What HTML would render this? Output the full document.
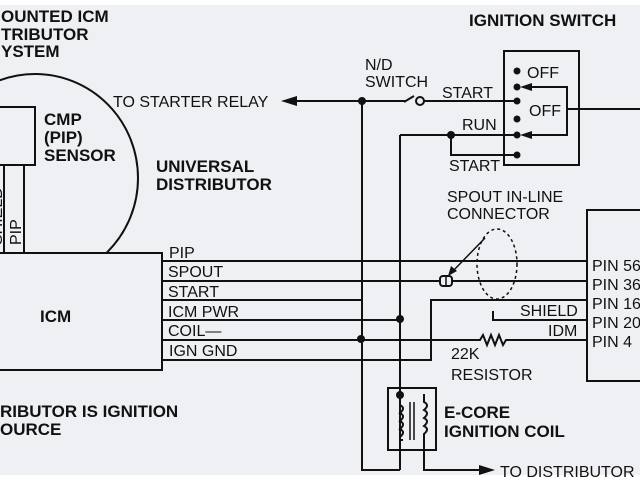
<!DOCTYPE html>
<html><head><meta charset="utf-8"><style>
html,body{margin:0;padding:0;background:#fff}
svg{display:block}
text{font-family:"Liberation Sans",sans-serif;fill:#111}
.b{font-weight:bold;font-size:17px}
.n{font-size:16px}
</style></head><body>
<svg width="640" height="480" viewBox="0 0 640 480">
<rect x="0" y="5" width="640" height="470" fill="#eef0f3"/>
<g fill="none" stroke="#111" stroke-width="2">
<ellipse cx="35" cy="178" rx="103" ry="104"/>
<path d="M-2 107 H35 V165 H-2" fill="#eef0f3"/>
<rect x="-2" y="165" width="26" height="88" fill="#eef0f3"/>
<line x1="4" y1="165" x2="4" y2="253"/>
<path d="M-2 253 H162 V370 H-2" fill="#eef0f3"/>
<line x1="162" y1="261" x2="587" y2="261"/>
<line x1="162" y1="281" x2="440" y2="281"/>
<line x1="452" y1="281" x2="587" y2="281"/>
<path d="M162 300 H362"/>
<path d="M162 320 H400"/>
<path d="M162 340 H480 l3 -5 l4 10 l4 -10 l4 10 l4 -10 l4 10 l3 -5 H587"/>
<path d="M162 360 H431 V300 H587"/>
<path d="M493 311 V320 H587"/>
<path d="M362 101 V470 H400"/>
<path d="M400 135 V470"/>
<path d="M297 101 H405"/>
<path d="M418 101 H517"/>
<path d="M404 102 L414 96"/>
<path d="M400 135 H517"/>
<path d="M451 135 V155 H517"/>
<rect x="504" y="51" width="75" height="114"/>
<path d="M527 87 H567 V135 H527"/>
<path d="M567 109 H640"/>
<path d="M640 210 H587 V381 H640"/>
<rect x="388" y="388" width="48" height="62"/>
<path d="M400 395 V405 q6 3 0 8 q6 3 0 8 q6 3 0 8 q6 3 0 8 V440 H403"/>
<path d="M425 395 H424 V402 q6 3 0 8 q6 3 0 8 q6 3 0 8 q6 3 0 8 V470 H480"/>
<line x1="410" y1="402" x2="410" y2="440" stroke-width="1.5"/>
<line x1="414" y1="402" x2="414" y2="440" stroke-width="1.5"/>
<rect x="440" y="276" width="12" height="10" rx="3" fill="#eef0f3"/>
<line x1="446" y1="276" x2="446" y2="286" stroke-width="1.5"/>
<line x1="485" y1="238" x2="452" y2="272" stroke-width="1.5"/>
<ellipse cx="497" cy="264" rx="20" ry="35" stroke-dasharray="3 3" stroke-width="1.5"/>
</g>
<circle cx="420" cy="101" r="4" fill="#eef0f3" stroke="#111" stroke-width="2"/>
<g fill="#111">
<circle cx="362" cy="101" r="4"/>
<circle cx="451" cy="135" r="4"/>
<circle cx="400" cy="319" r="4"/>
<circle cx="361" cy="339" r="4"/>
<circle cx="400" cy="395" r="4"/>
<circle cx="517" cy="71" r="3.5"/>
<circle cx="517" cy="87" r="3.5"/>
<circle cx="517" cy="101" r="3.5"/>
<circle cx="517" cy="119" r="3.5"/>
<circle cx="517" cy="135" r="3.5"/>
<circle cx="517" cy="155" r="3.5"/>
<path d="M281 101 L297 96 L297 106 Z"/>
<path d="M520 87 L532 83 L532 91 Z"/>
<path d="M520 135 L532 131 L532 139 Z"/>
<path d="M495 470 L479 465 L479 475 Z"/>
<path d="M448 276 L451 266 L457 271 Z"/>
</g>
<text class="b" x="1" y="22">OUNTED ICM</text>
<text class="b" x="1" y="40">TRIBUTOR</text>
<text class="b" x="1" y="57">YSTEM</text>
<text class="b" x="44" y="125">CMP</text>
<text class="b" x="44" y="143">(PIP)</text>
<text class="b" x="44" y="161">SENSOR</text>
<text class="b" x="156" y="172">UNIVERSAL</text>
<text class="b" x="156" y="190">DISTRIBUTOR</text>
<text class="n" x="113" y="107">TO STARTER RELAY</text>
<text class="b" x="469" y="26">IGNITION SWITCH</text>
<text class="n" x="365" y="70">N/D</text>
<text class="n" x="365" y="87">SWITCH</text>
<text class="n" x="442" y="98">START</text>
<text class="n" x="462" y="130">RUN</text>
<text class="n" x="449" y="171">START</text>
<text class="n" x="527" y="78">OFF</text>
<text class="n" x="529" y="116">OFF</text>
<text class="n" x="447" y="202">SPOUT IN-LINE</text>
<text class="n" x="447" y="219">CONNECTOR</text>
<text class="n" x="169" y="258">PIP</text>
<text class="n" x="168" y="277">SPOUT</text>
<text class="n" x="168" y="297">START</text>
<text class="n" x="168" y="317">ICM PWR</text>
<text class="n" x="168" y="336">COIL—</text>
<text class="n" x="169" y="356">IGN GND</text>
<text class="b" x="40" y="322">ICM</text>
<text class="n" x="520" y="316">SHIELD</text>
<text class="n" x="548" y="336">IDM</text>
<text class="n" x="592" y="271">PIN 56</text>
<text class="n" x="592" y="290">PIN 36</text>
<text class="n" x="592" y="309">PIN 16</text>
<text class="n" x="592" y="328">PIN 20</text>
<text class="n" x="592" y="347">PIN 4</text>
<text class="n" x="451" y="359">22K</text>
<text class="n" x="451" y="380">RESISTOR</text>
<text class="b" x="444" y="418">E-CORE</text>
<text class="b" x="444" y="437">IGNITION COIL</text>
<text class="n" x="500" y="477">TO DISTRIBUTOR</text>
<text class="b" x="0" y="417">RIBUTOR IS IGNITION</text>
<text class="b" x="0" y="435">OURCE</text>
<text class="n" transform="translate(21,245) rotate(-90)">PIP</text>
<text class="n" transform="translate(2,245) rotate(-90)">SHIELD</text>
</svg>
</body></html>
